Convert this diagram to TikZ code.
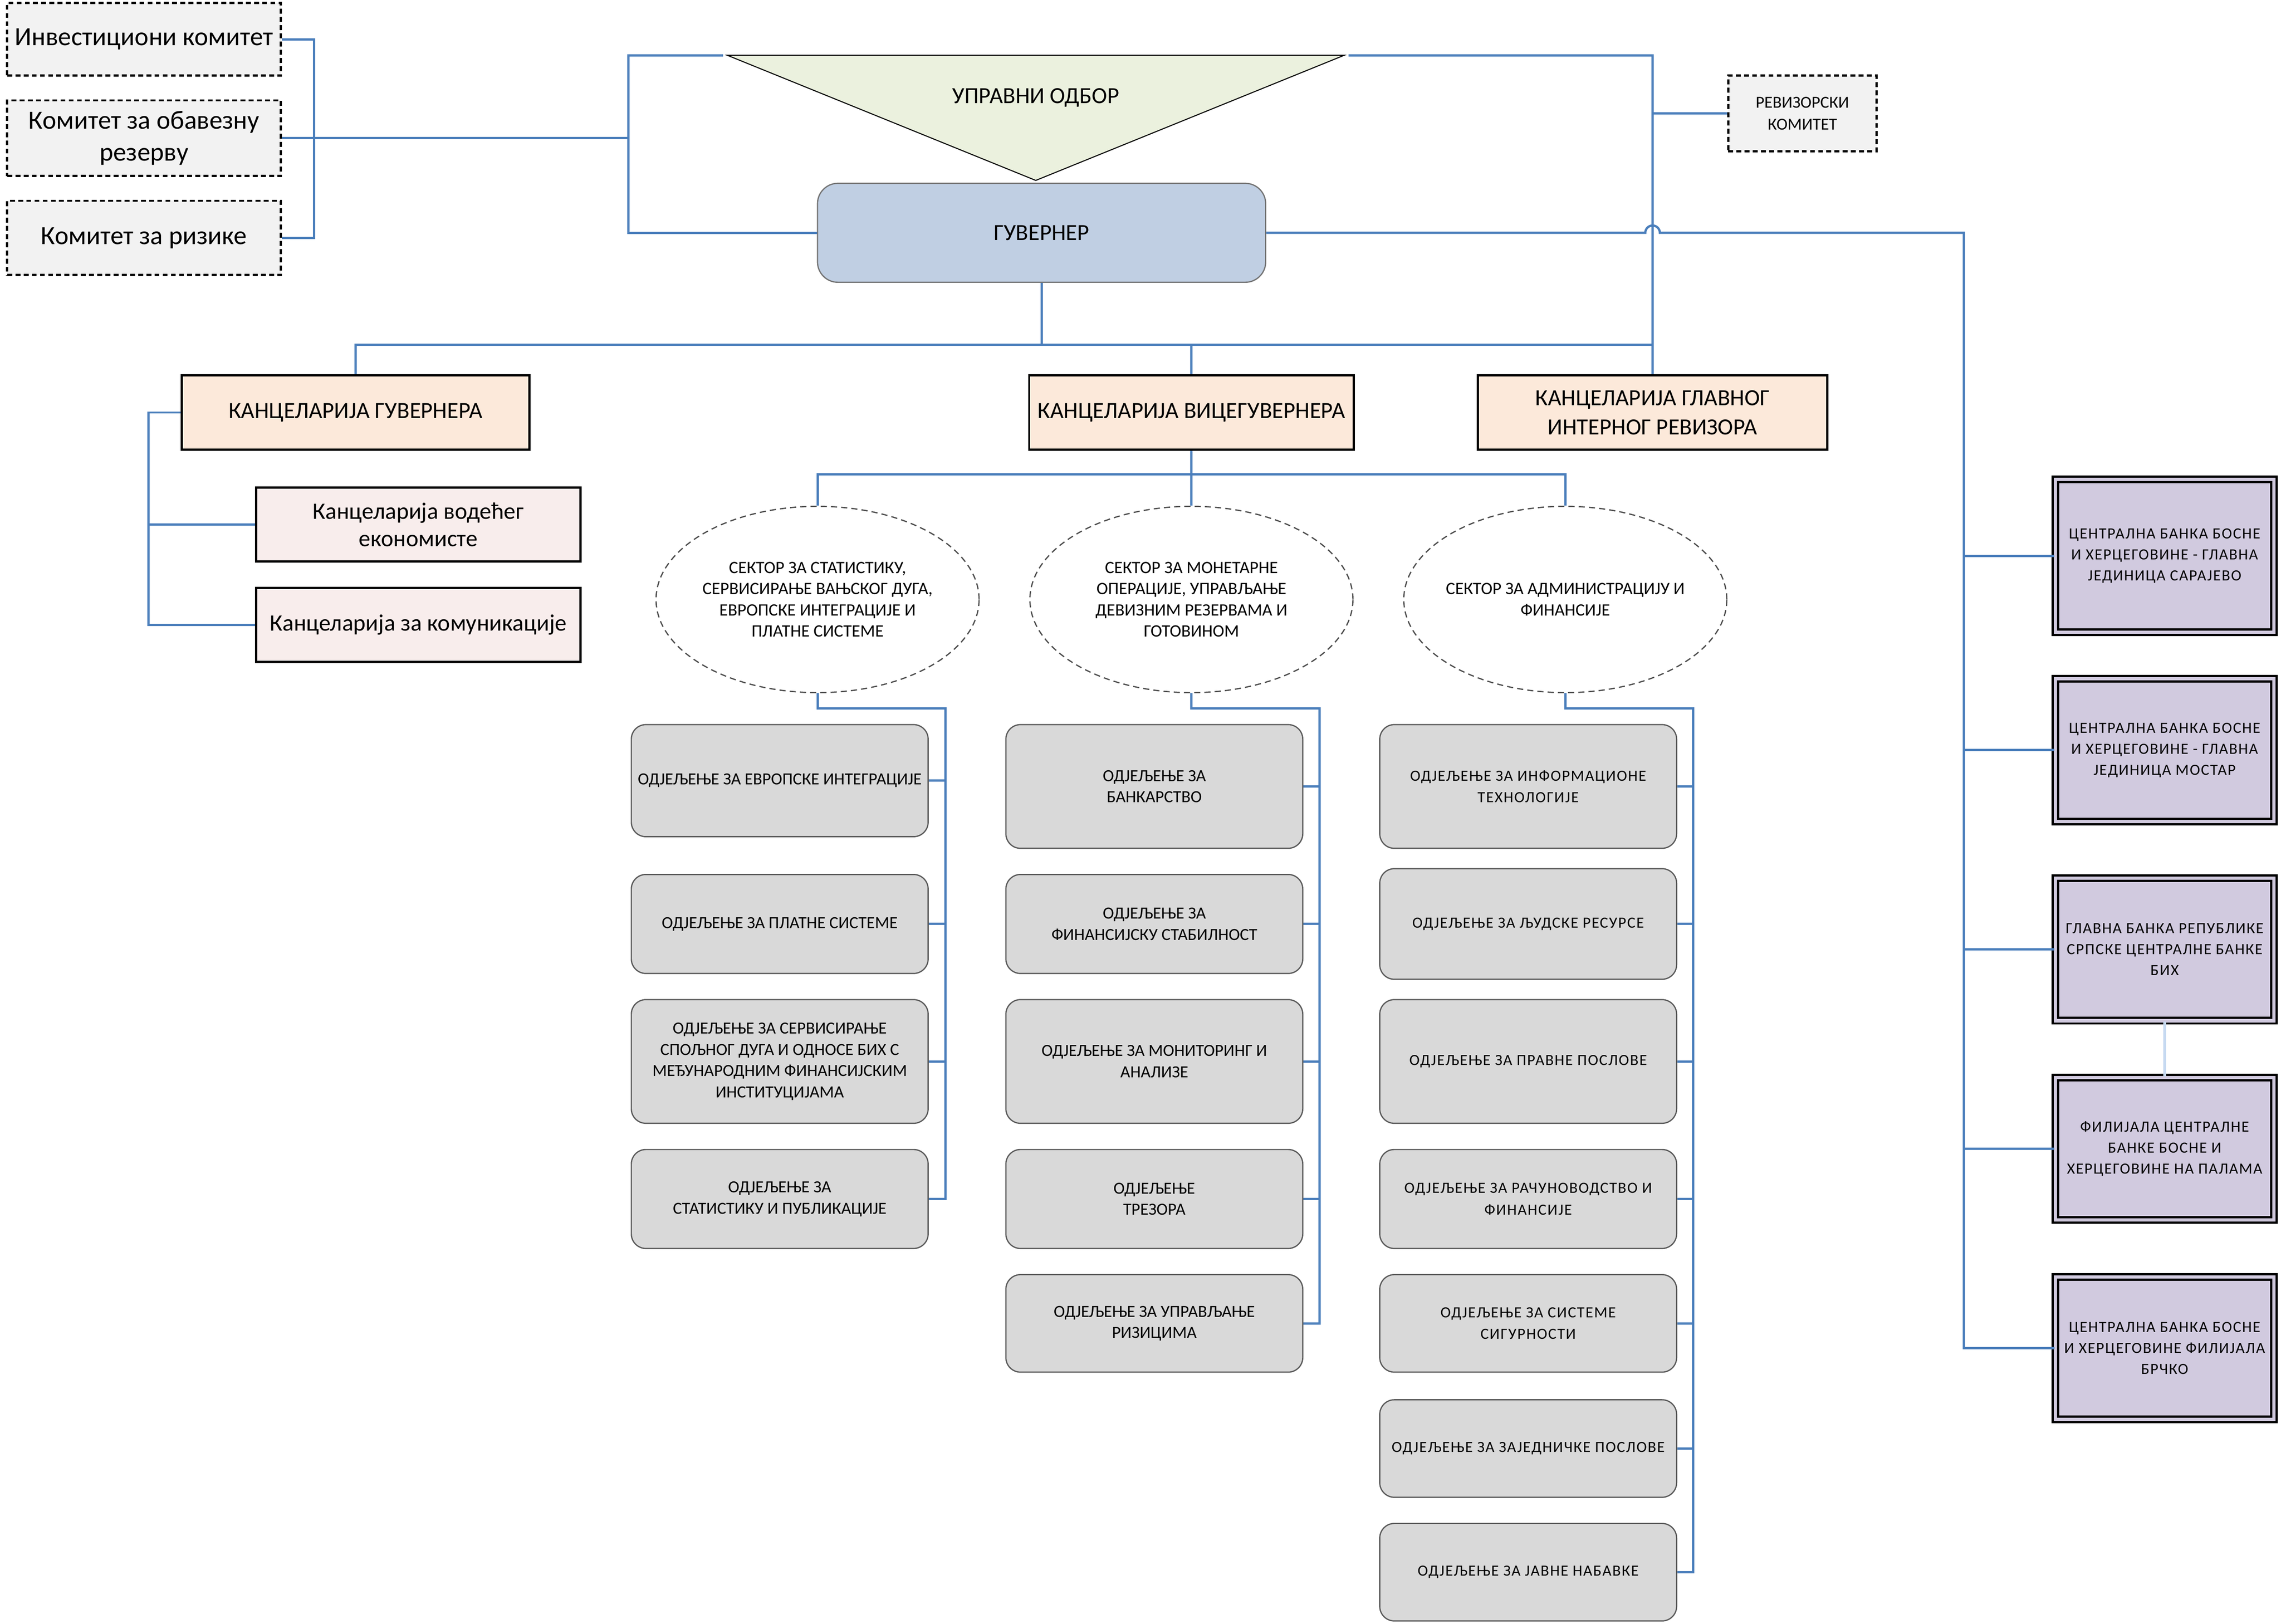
\documentclass[tikz,border=0pt]{standalone}
\usepackage{fontspec}
\setmainfont{Carlito}
\newfontfamily\widefont[LetterSpace=6]{Carlito}
\usetikzlibrary{shapes.geometric}
\definecolor{lineblue}{HTML}{4A7EBB}
\definecolor{lightblue}{HTML}{C6D9F1}
\definecolor{komgray}{HTML}{F2F2F2}
\definecolor{uogreen}{HTML}{EBF1DE}
\definecolor{guvblue}{HTML}{C0CFE3}
\definecolor{kancpeach}{HTML}{FCE9DA}
\definecolor{kancpink}{HTML}{F8EDEC}
\definecolor{odjgray}{HTML}{D9D9D9}
\definecolor{jedpurple}{HTML}{D1CADF}

\begin{document}
\begin{tikzpicture}[x=0.025cm, y=-0.025cm,
	every node/.style={inner sep=1pt, align=center},
	conn/.style={draw=lineblue, line width=1.1pt},
	komitet/.style={draw=black, fill=komgray, line width=1.1pt, dash pattern=on 2.4pt off 1.6pt, minimum width=4.7cm, font=\fontsize{12.8}{15.6}\selectfont},
	kanc/.style={draw=black, fill=kancpeach, line width=1.1pt, minimum height=1.275cm, font=\fontsize{11.3}{14.2}\selectfont},
	podkanc/.style={draw=black, fill=kancpink, line width=1.1pt, minimum width=5.575cm, minimum height=1.275cm, font=\fontsize{11.5}{13.5}\selectfont},
	sektor/.style={ellipse, draw=black!70, dash pattern=on 3pt off 2pt, line width=0.6pt, minimum width=5.55cm, minimum height=3.2cm, inner xsep=-8pt, inner ysep=0pt, font=\fontsize{8.5}{10.3}\selectfont},
	odj/.style={draw=black!65, fill=odjgray, rounded corners=0.25cm, line width=0.6pt, minimum width=5.1cm, font=\fontsize{8.3}{10.4}\selectfont},
	odjw/.style={odj, font=\widefont\fontsize{7.6}{10.6}\selectfont},
	jedinica/.style={draw=black, fill=jedpurple, double=jedpurple, double distance=1.6pt, line width=1.1pt, minimum width=3.75cm, minimum height=2.45cm, font=\widefont\fontsize{7.6}{10.3}\selectfont}]
\fill[white] (0,0) rectangle (1568,1116);
\useasboundingbox (0,0) rectangle (1568,1116);

\node[komitet, minimum height=1.25cm] (kInv) at (99,27) {Инвестициони комитет};
\node[komitet, minimum height=1.3cm] (kObv) at (99,95) {Комитет за обавезну\\резерву};
\node[komitet, minimum height=1.275cm] (kRiz) at (99,163.5) {Комитет за ризике};

\coordinate (UOl) at (500,38);
\coordinate (UOr) at (924,38);
\coordinate (UOv) at (712,124);
\filldraw[fill=uogreen, draw=black, line width=0.5pt] (UOl) -- (UOr) -- (UOv) -- cycle;
\node[font=\fontsize{11.3}{14}\selectfont] (UO) at (712,67) {УПРАВНИ ОДБОР};
\coordinate (UOa) at (497,38);
\coordinate (UOb) at (927,38);

\node[draw=black!55, fill=guvblue, rounded corners=0.35cm, line width=0.6pt, minimum width=7.7cm, minimum height=1.7cm, font=\fontsize{11.3}{14}\selectfont] (G) at (716,160) {ГУВЕРНЕР};
\node[komitet, minimum width=2.55cm, minimum height=1.3cm, font=\fontsize{8.2}{10.6}\selectfont] (RK) at (1239,78) {РЕВИЗОРСКИ\\КОМИТЕТ};

\node[kanc, minimum width=5.975cm] (KG) at (244.5,283.5) {КАНЦЕЛАРИЈА ГУВЕРНЕРА};
\node[kanc, minimum width=5.575cm] (KV) at (819,283.5) {КАНЦЕЛАРИЈА ВИЦЕГУВЕРНЕРА};
\node[kanc, minimum width=6cm] (KR) at (1136,283.5) {КАНЦЕЛАРИЈА ГЛАВНОГ\\ИНТЕРНОГ РЕВИЗОРА};

\node[podkanc] (KE) at (287.5,360.5) {Канцеларија водећег\\економисте};
\node[podkanc] (KK) at (287.5,429.5) {Канцеларија за комуникације};

\node[sektor] (S1) at (562,412) {СЕКТОР ЗА СТАТИСТИКУ,\\СЕРВИСИРАЊЕ ВАЊСКОГ ДУГА,\\ЕВРОПСКЕ ИНТЕГРАЦИЈЕ И\\ПЛАТНЕ СИСТЕМЕ};
\node[sektor] (S2) at (819,412) {СЕКТОР ЗА МОНЕТАРНЕ\\ОПЕРАЦИЈЕ, УПРАВЉАЊЕ\\ДЕВИЗНИМ РЕЗЕРВАМА И\\ГОТОВИНОМ};
\node[sektor] (S3) at (1076,412) {СЕКТОР ЗА АДМИНИСТРАЦИЈУ И\\ФИНАНСИЈЕ};

\node[odj, minimum height=1.925cm] (D11) at (536,536.5) {ОДЈЕЉЕЊЕ ЗА ЕВРОПСКЕ ИНТЕГРАЦИЈЕ};
\node[odj, minimum height=1.7cm] (D12) at (536,635) {ОДЈЕЉЕЊЕ ЗА ПЛАТНЕ СИСТЕМЕ};
\node[odj, minimum height=2.125cm] (D13) at (536,729.5) {ОДЈЕЉЕЊЕ ЗА СЕРВИСИРАЊЕ\\СПОЉНОГ ДУГА И ОДНОСЕ БИХ С\\МЕЂУНАРОДНИМ ФИНАНСИЈСКИМ\\ИНСТИТУЦИЈАМА};
\node[odj, minimum height=1.7cm] (D14) at (536,824) {ОДЈЕЉЕЊЕ ЗА\\СТАТИСТИКУ И ПУБЛИКАЦИЈЕ};

\node[odj, minimum height=2.125cm] (D21) at (793.5,540.5) {ОДЈЕЉЕЊЕ ЗА\\БАНКАРСТВО};
\node[odj, minimum height=1.7cm] (D22) at (793.5,635) {ОДЈЕЉЕЊЕ ЗА\\ФИНАНСИЈСКУ СТАБИЛНОСТ};
\node[odj, minimum height=2.125cm] (D23) at (793.5,729.5) {ОДЈЕЉЕЊЕ ЗА МОНИТОРИНГ И\\АНАЛИЗЕ};
\node[odj, minimum height=1.7cm] (D24) at (793.5,824) {ОДЈЕЉЕЊЕ\\ТРЕЗОРА};
\node[odj, minimum height=1.675cm] (D25) at (793.5,909.5) {ОДЈЕЉЕЊЕ ЗА УПРАВЉАЊЕ\\РИЗИЦИМА};

\node[odjw, minimum height=2.125cm] (D31) at (1050.5,540.5) {ОДЈЕЉЕЊЕ ЗА ИНФОРМАЦИОНЕ\\ТЕХНОЛОГИЈЕ};
\node[odjw, minimum height=1.9cm] (D32) at (1050.5,635) {ОДЈЕЉЕЊЕ ЗА ЉУДСКЕ РЕСУРСЕ};
\node[odjw, minimum height=2.125cm] (D33) at (1050.5,729.5) {ОДЈЕЉЕЊЕ ЗА ПРАВНЕ ПОСЛОВЕ};
\node[odjw, minimum height=1.7cm] (D34) at (1050.5,824) {ОДЈЕЉЕЊЕ ЗА РАЧУНОВОДСТВО И\\ФИНАНСИЈЕ};
\node[odjw, minimum height=1.675cm] (D35) at (1050.5,909.5) {ОДЈЕЉЕЊЕ ЗА СИСТЕМЕ\\СИГУРНОСТИ};
\node[odjw, minimum height=1.675cm] (D36) at (1050.5,995.5) {ОДЈЕЉЕЊЕ ЗА ЗАЈЕДНИЧКЕ ПОСЛОВЕ};
\node[odjw, minimum height=1.675cm] (D37) at (1050.5,1080.5) {ОДЈЕЉЕЊЕ ЗА ЈАВНЕ НАБАВКЕ};

\node[jedinica, minimum height=2.625cm] (J1) at (1488,382) {ЦЕНТРАЛНА БАНКА БОСНЕ\\И ХЕРЦЕГОВИНЕ - ГЛАВНА\\ЈЕДИНИЦА САРАЈЕВО};
\node[jedinica] (J2) at (1488,515.5) {ЦЕНТРАЛНА БАНКА БОСНЕ\\И ХЕРЦЕГОВИНЕ - ГЛАВНА\\ЈЕДИНИЦА МОСТАР};
\node[jedinica] (J3) at (1488,652.5) {ГЛАВНА БАНКА РЕПУБЛИКЕ\\СРПСКЕ ЦЕНТРАЛНЕ БАНКЕ\\БИХ};
\node[jedinica] (J4) at (1488,789.5) {ФИЛИЈАЛА ЦЕНТРАЛНЕ\\БАНКЕ БОСНЕ И\\ХЕРЦЕГОВИНЕ НА ПАЛАМА};
\node[jedinica] (J5) at (1488,926.5) {ЦЕНТРАЛНА БАНКА БОСНЕ\\И ХЕРЦЕГОВИНЕ ФИЛИЈАЛА\\БРЧКО};

\coordinate (OD) at (432,95);
\coordinate (RKj) at (1136,78);
\coordinate (JB) at (1350,160);
\coordinate (B) at (716,237);
\coordinate (VB) at (819,326);
\coordinate (C1) at (650,487);
\coordinate (C2) at (907,487);
\coordinate (C3) at (1164,487);

\draw[conn] (kInv.east) -- ++(22,0) |- (kRiz.east);
\draw[conn] (kObv.east) -- (OD);
\draw[conn] (UOa) -- ++(-65,0) |- (G.west);
\draw[conn] (UOb) -| (KR.north);
\draw[conn] (RKj) -- (RK.west);
\draw[conn] (G.east) -- (1131,160) arc[start angle=180, end angle=360, radius=5] -- (JB) |- (J5.west);
\foreach \j in {J1,J2,J3,J4}
	\draw[conn] (\j.west -| JB) -- (\j.west);
\draw[lightblue, line width=1.2pt] (J3.south) -- (J4.north);

\draw[conn] (G.south) -- (B);
\draw[conn] (KG.north) |- (B) -| (KR.north);
\draw[conn] (KV.north) -- (KV.north |- B);
\draw[conn] (KG.west) -- ++(-22,0) |- (KK.west);
\draw[conn] (KE.west) -- ++(-73,0);

\draw[conn] (KV.south) -- (S2.north);
\draw[conn] (S1.north) |- (VB) -| (S3.north);

\draw[conn] (S1.south) |- (C1) |- (D14.east);
\foreach \d in {D11,D12,D13}
	\draw[conn] (\d.east) -- (\d.east -| C1);
\draw[conn] (S2.south) |- (C2) |- (D25.east);
\foreach \d in {D21,D22,D23,D24}
	\draw[conn] (\d.east) -- (\d.east -| C2);
\draw[conn] (S3.south) |- (C3) |- (D37.east);
\foreach \d in {D31,D32,D33,D34,D35,D36}
	\draw[conn] (\d.east) -- (\d.east -| C3);
\end{tikzpicture}
\end{document}
